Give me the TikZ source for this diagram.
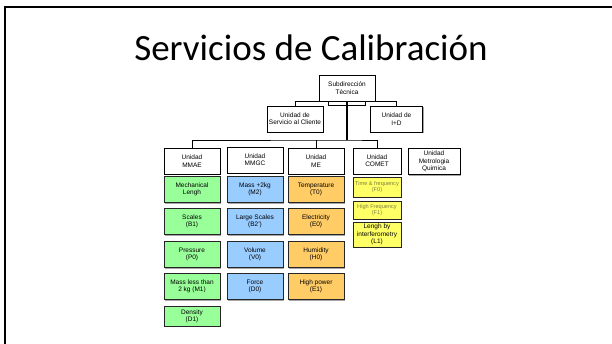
\documentclass[tikz,border=0pt]{standalone}
\usepackage{fontspec}
\setmainfont{Liberation Sans}
\newfontfamily\titlefont{Carlito}
\usetikzlibrary{positioning, shadows}
\definecolor{boxgreen}{RGB}{153,255,153}
\definecolor{boxblue}{RGB}{153,204,255}
\definecolor{boxorange}{RGB}{255,204,102}
\definecolor{boxyellow}{RGB}{255,255,102}
\definecolor{dimtext}{RGB}{128,128,64}

\begin{document}
\begin{tikzpicture}[x=1pt, y=-1pt,
    unit/.style={draw=black, fill=white, line width=0.8pt, align=center, inner sep=1pt,
        font=\fontsize{6.5}{7.3}\selectfont, minimum width=56pt, minimum height=26pt,
        drop shadow={shadow xshift=1.2pt, shadow yshift=-1.2pt, fill=gray!70, opacity=1}},
    lab/.style={unit, draw=black!85},
    link/.style={line width=0.9pt}]
                % Slide frame
                \useasboundingbox (0,0) rectangle (612,344);
                \draw[line width=2pt] (5,344) -- (5,7) -- (612,7);

                % Title
                \node[anchor=base, font=\titlefont\fontsize{37}{40}\selectfont] (title) at (311,61) {Servicios de Calibración};

                % Top levels
                \node[unit] (sub) at (347,88) {Subdirección\\Técnica};
                \node[unit] (cli) at (295,119) {Unidad de\\Servicio al Cliente};
                \node[unit, minimum width=52pt] (iyd) at (396.5,119) {Unidad de\\I+D};

                % Units
                \node[unit] (mmae) at (192,161) {Unidad\\MMAE};
                \node[unit] (mmgc) at (255,160) {Unidad\\MMGC};
                \node[unit] (me) at (316,161) {Unidad\\ME};
                \node[unit, minimum width=48pt] (comet) at (377,161) {Unidad\\COMET};
                \node[unit, minimum width=52pt] (quim) at (434,161.5) {Unidad\\Metrologia\\Quimica};

                % MMAE laboratories
                \node[lab, fill=boxgreen] (mech) at (192,189.5) {Mechanical\\Lengh};
                \node[lab, fill=boxgreen] (scales) at (192,221.5) {Scales\\(B1)};
                \node[lab, fill=boxgreen] (press) at (192,254.5) {Pressure\\(P0)};
                \node[lab, fill=boxgreen] (massl) at (192,286.5) {Mass less than\\2 kg (M1)};
                \node[lab, fill=boxgreen, minimum height=20pt] (dens) at (192,316) {Density\\(D1)};

                % MMGC laboratories
                \node[lab, fill=boxblue] (massh) at (255,189.5) {Mass +2kg\\(M2)};
                \node[lab, fill=boxblue] (large) at (255,221.5) {Large Scales\\(B2')};
                \node[lab, fill=boxblue] (vol) at (255,254.5) {Volume\\(V0)};
                \node[lab, fill=boxblue] (force) at (255,286.5) {Force\\(D0)};

                % ME laboratories
                \node[lab, fill=boxorange] (temp) at (316,189.5) {Temperature\\(T0)};
                \node[lab, fill=boxorange] (elec) at (316,221.5) {Electricity\\(E0)};
                \node[lab, fill=boxorange] (hum) at (316,254.5) {Humidity\\(H0)};
                \node[lab, fill=boxorange] (power) at (316,286.5) {High power\\(E1)};

                % COMET laboratories
                \node[lab, fill=boxyellow, minimum width=48pt, minimum height=20pt, text=dimtext,
                    font=\fontsize{5.6}{6.6}\selectfont] (time) at (377,187) {Time \& frequency\\(F0)};
                \node[lab, fill=boxyellow, minimum width=48pt, minimum height=18pt, text=dimtext,
                    font=\fontsize{5.6}{6.6}\selectfont] (hfreq) at (377,210) {High Frequency\\(F1)};
                \node[lab, fill=boxyellow, minimum width=48pt, minimum height=25pt] (interf) at (377,234.5) {Lengh by\\interferometry\\(L1)};

                % Connectors
                \coordinate (bus) at (347,140);
                \draw[link] (cli.north) |- (sub.south) -| (iyd.north);
                \draw[link] ([xshift=-19pt]sub.south) -- ++(0,4) -| ([xshift=18pt]sub.south);
                \draw[line width=1.4pt] (sub.south) -- (bus);
                \draw[link] (mmae.north) |- (bus) -| (comet.north);
                \draw[link] (me.north) -- (me.north |- bus);
            \end{tikzpicture}
\end{document}
